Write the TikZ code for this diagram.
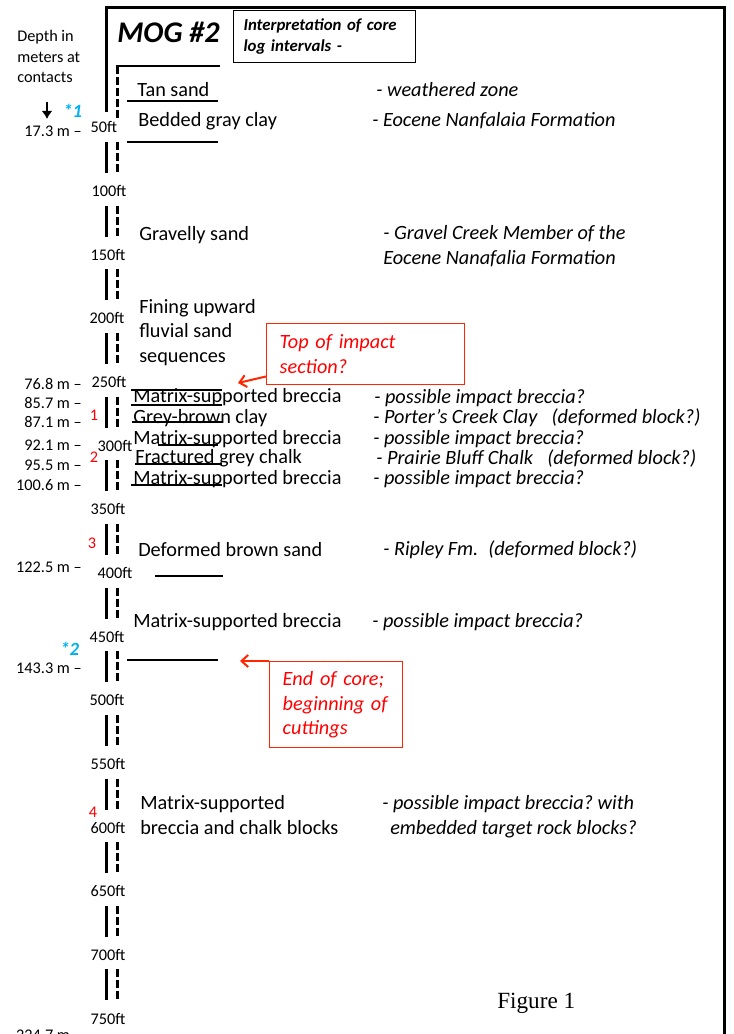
\documentclass[tikz,border=0pt]{standalone}
\usepackage{fontspec}
\setmainfont{Carlito}
\newfontfamily\figfont{Liberation Serif}
\usetikzlibrary{arrows.meta,positioning}
\newcommand\bodyfont{\fontsize{15.2}{18.3}\selectfont}
\newcommand\smallfont{\fontsize{12.2}{15.4}\selectfont}
\definecolor{callred}{RGB}{255,38,0}
\definecolor{textred}{RGB}{255,0,0}
\definecolor{markblue}{RGB}{0,176,240}
\frenchspacing

\begin{document}
\begin{tikzpicture}[x=0.75pt,y=-0.75pt,>=Latex,
  lith/.style={anchor=base west,inner sep=0pt,font=\bodyfont,align=left},
  interp/.style={lith,font=\bodyfont\itshape},
  depth/.style={anchor=base east,inner sep=0pt,font=\smallfont},
  ftlbl/.style={anchor=base,inner sep=0pt,font=\smallfont},
  unitno/.style={anchor=base,inner sep=0pt,font=\smallfont,text=textred},
  marker/.style={anchor=base west,inner sep=0pt,font=\fontsize{14}{16}\selectfont\bfseries\itshape,text=markblue},
  contact/.style={line width=1.4pt},
  solidcol/.style={line width=2.25pt},
  dashcol/.style={line width=2.25pt,dash pattern=on 6pt off 2.25pt},
  callout/.style={draw=callred,line width=1.1pt,anchor=north west,align=left,inner xsep=9.75pt,text=textred,font=\bodyfont\itshape},
  callarrow/.style={draw=callred,line width=1.5pt,-{Straight Barb[length=5pt,width=9pt]}}]
\useasboundingbox (0,0) rectangle (733,1034);
\draw[line width=2.25pt] (106,112) -- (106,8) -- (724,8) -- (724,1040);
\node[anchor=base west,inner sep=0pt,font=\fontsize{22.5}{27}\selectfont\bfseries\itshape] (mog) at (117,43) {MOG \#2};
\node[draw,line width=0.8pt,anchor=north west,minimum width=136.5pt,minimum height=39pt,align=left,text width=121.5pt,inner xsep=7.5pt,font=\fontsize{12.6}{15.75}\selectfont\bfseries\itshape] (interp) at (233,10) {Interpretation of core\\log intervals -};
\draw[dashcol] (117,66) -- (117,118);
\draw[contact] (116,66) -- (220,66);
\foreach \ft/\lx in {50/104,100/109,150/108,200/107,250/109,300/115,350/108,400/115,450/107,500/107,550/108,600/108,650/108,700/108,750/108}{
  \pgfmathsetmacro\yy{128+63.65*(\ft/50-1)}
  \node[ftlbl] (ft\ft) at (\lx,\yy+5) {\ft ft};
  \ifnum\ft<750
    \draw[solidcol] (106,\yy+14) -- (106,\yy+45);
    \draw[dashcol] (117,\yy+14) -- (117,\yy+45);
  \fi}
\foreach \y/\xa/\xb in {101/127/218,142/127/218,390/131/222,405/131/222,422/132/223,445/158/218,464/135/222,485/131/222,576/155/223,660/127/218}
  \draw[contact] (\xa,\y) -- (\xb,\y);
\node[anchor=base west,inner sep=0pt,font=\smallfont,align=left] (dhead) at (17,83) {Depth in\\meters at\\contacts};
\coordinate (arrtop) at (47,102);
\coordinate (arrbot) at (47,119);
\draw[line width=1.1pt,-{Latex[length=6pt,width=8pt]}] (arrtop) -- (arrbot);
\node[marker] (mk1) at (63,118) {*1};
\node[marker] (mk2) at (60,655) {*2};
\node[depth] (dA) at (82,137) {17.3 m –};
\node[depth] (dB) at (82,389) {76.8 m –};
\node[depth] (dC) at (82,408) {85.7 m –};
\node[depth] (dD) at (82,427) {87.1 m –};
\node[depth] (dE) at (82,450) {92.1 m –};
\node[depth] (dF) at (82,470) {95.5 m –};
\node[depth] (dG) at (82,490) {100.6 m –};
\node[depth] (dH) at (82,572) {122.5 m –};
\node[depth] (dI) at (82,673) {143.3 m –};
\node[depth] (dJ) at (82,1040) {224.7 m –};
\node[unitno] (u1) at (94,420) {1};
\node[unitno] (u2) at (94,462) {2};
\node[unitno] (u3) at (92,548) {3};
\node[unitno] (u4) at (93,817) {4};
\node[lith] (tan) at (137,97) {Tan sand};
\node[lith] (clay) at (138,127) {Bedded gray clay};
\node[lith] (gravel) at (139,240) {Gravelly sand};
\node[lith] (fining) at (139,362) {Fining upward\\fluvial sand\\sequences};
\node[lith] (brA) at (133,402) {Matrix-supported breccia};
\node[lith] (gbclay) at (133,423) {Grey-brown clay};
\node[lith] (brB) at (133,444) {Matrix-supported breccia};
\node[lith] (chalk) at (135,463) {Fractured grey chalk};
\node[lith] (brC) at (133,484) {Matrix-supported breccia};
\node[lith] (brown) at (138,556) {Deformed brown sand};
\node[lith] (brD) at (133,627) {Matrix-supported breccia};
\node[lith] (brE) at (140,834) {Matrix-supported\\breccia and chalk blocks};
\node[interp] (weath) at (376,97) {- weathered zone};
\node[interp] (nanf) at (372,127) {- Eocene Nanfalaia Formation};
\node[interp] (gcm) at (383,264) {- Gravel Creek Member of the\\Eocene Nanafalia Formation};
\node[interp] (ibA) at (374,403) {- possible impact breccia?};
\node[interp] (porter) at (373,423) {- Porter’s Creek Clay\hspace{0.7em}(deformed block?)};
\node[interp] (ibB) at (373,444) {- possible impact breccia?};
\node[interp] (prairie) at (376,464) {- Prairie Bluff Chalk\hspace{0.7em}(deformed block?)};
\node[interp] (ibC) at (373,484) {- possible impact breccia?};
\node[interp] (ripley) at (383,555) {- Ripley Fm.\hspace{0.5em}(deformed block?)};
\node[interp] (ibD) at (372,627) {- possible impact breccia?};
\node[interp] (ibE) at (382,834) {- possible impact breccia? with\\\hspace{6pt}embedded target rock blocks?};
\node[callout,minimum width=148.5pt,minimum height=45.75pt,text width=129pt] (topbox) at (266,323) {Top of impact\\section?};
\coordinate (topmark) at (238,383);
\draw[callarrow] ([yshift=6.75pt]topbox.south west) -- (topmark);
\node[callout,minimum width=99.75pt,minimum height=64.5pt,text width=80.25pt] (endbox) at (269,661) {End of core;\\beginning of\\cuttings};
\coordinate (endmark) at (240,661);
\draw[callarrow] (endbox.north west) -- (endmark);
\node[anchor=base west,inner sep=0pt,font=\figfont\fontsize{17.4}{20}\selectfont] (fig) at (497,1008) {Figure 1};
\end{tikzpicture}
\end{document}
